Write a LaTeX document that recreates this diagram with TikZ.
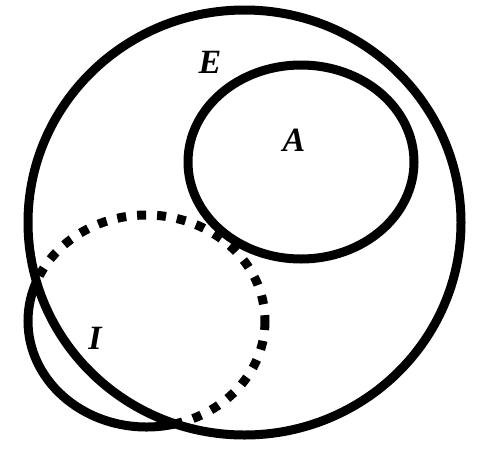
\documentclass[tikz,border=0pt]{standalone}
\usepackage{fontspec}
\setmainfont{Liberation Serif}

\begin{document}
\begin{tikzpicture}[
    x=1pt, y=-1pt,
    setline/.style={line width=9pt},
    hiddenline/.style={line width=9pt, dash pattern=on 9pt off 11pt},
    setlabel/.style={font=\fontsize{34}{40}\selectfont\bfseries\itshape, inner sep=0pt},
    Eshape/.style={x radius=216.5, y radius=212.5},
    Ashape/.style={x radius=113, y radius=97},
    Ishape/.style={x radius=118.5, y radius=106},
]
\useasboundingbox (0,0) rectangle (492,448);

% Centres of the sets
\coordinate (Ec) at (244.5,222.5);
\coordinate (Ac) at (301,162);
\coordinate (Ic) at (146.5,321);

% Set E and subset A
\draw[setline] (Ec) ellipse [Eshape];
\draw[setline] (Ac) ellipse [Ashape];

% Set I: dashed inside E, solid outside
\begin{scope}
    \clip (Ec) ellipse [Eshape];
    \draw[hiddenline] (Ic) ellipse [Ishape];
\end{scope}
\begin{scope}[even odd rule]
    \clip (0,0) rectangle (492,448) (Ec) ellipse [Eshape];
    \draw[setline] (Ic) ellipse [Ishape];
\end{scope}

% Labels
\node[setlabel] (labelE) at (210,62) {E};
\node[setlabel] (labelA) at (294,140) {A};
\node[setlabel] (labelI) at (95,338) {I};

\end{tikzpicture}
\end{document}
